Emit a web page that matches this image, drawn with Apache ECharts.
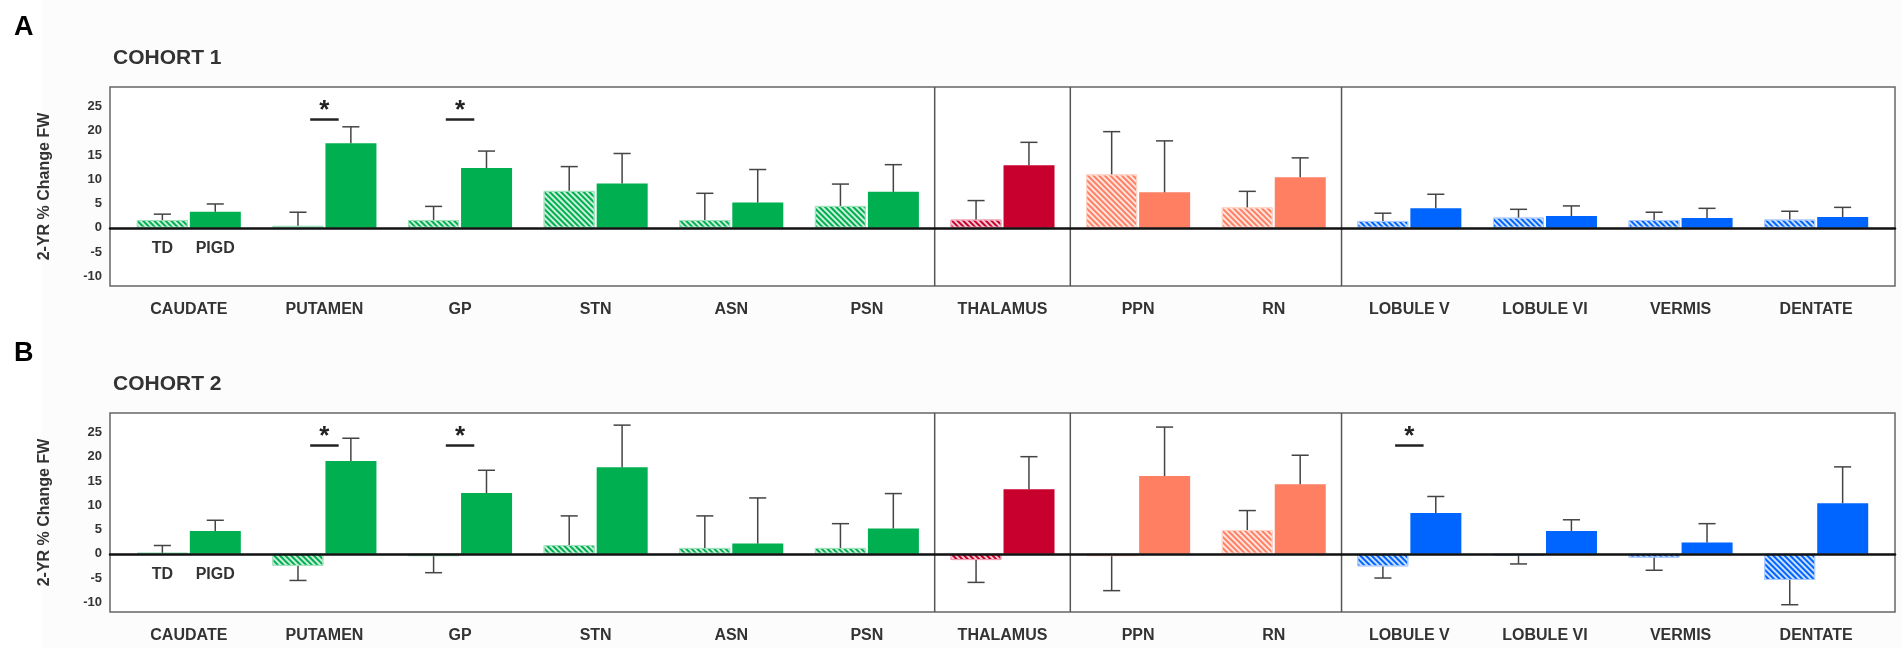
<!DOCTYPE html>
<html>
<head>
<meta charset="utf-8">
<script src="https://cdn.jsdelivr.net/npm/echarts@6/dist/echarts.min.js"></script>
<style>
html,body{margin:0;padding:0;background:#fff;}
#chart{width:1902px;height:648px;}
</style>
</head>
<body>
<div id="chart"></div>
<script>
// ---------- data ----------
const categories = ['CAUDATE','PUTAMEN','GP','STN','ASN','PSN','THALAMUS','PPN','RN','LOBULE V','LOBULE VI','VERMIS','DENTATE'];
const groupStarts = [6, 7, 9];            // first category of each new region group (dividers)
const yTicks = [-10, -5, 0, 5, 10, 15, 20, 25];
const groupNames = ['TD', 'PIGD'];

// Cohort 1
const c1TD      = [1.6, 0.4, 1.6, 7.6, 1.6, 4.5, 1.7, 11.0, 4.2, 1.4, 2.1, 1.6, 1.7];
const c1TDErr   = [1.2, 2.8, 2.8, 5.0, 5.5, 4.5, 3.9, 8.8, 3.3, 1.6, 1.7, 1.6, 1.7];
const c1PIGD    = [3.3, 17.4, 12.3, 9.1, 5.2, 7.4, 12.9, 7.3, 10.4, 4.0, 2.4, 2.0, 2.2];
const c1PIGDErr = [1.6, 3.4, 3.5, 6.2, 6.8, 5.6, 4.7, 10.6, 4.0, 2.9, 2.1, 2.0, 2.0];
const c1Sig     = ['PUTAMEN', 'GP'];

// Cohort 2
const c2TD      = [0.2, -2.5, -0.5, 1.8, 1.2, 1.2, -1.3, -0.5, 4.9, -2.6, -0.4, -0.8, -5.4];
const c2TDErr   = [1.5, 3.0, 3.4, 6.0, 6.6, 5.0, 4.6, 7.1, 4.0, 2.4, 1.7, 2.6, 5.1];
const c2PIGD    = [4.7, 19.1, 12.5, 17.8, 2.1, 5.2, 13.3, 16.0, 14.3, 8.4, 4.7, 2.3, 10.4];
const c2PIGDErr = [2.2, 4.7, 4.7, 8.7, 9.4, 7.2, 6.7, 10.1, 6.0, 3.4, 2.3, 3.9, 7.5];
const c2Sig     = ['PUTAMEN', 'GP', 'LOBULE V'];

// ---------- styles ----------
const GREEN = '#00b050', RED = '#c8002e', SALMON = '#ff7f62', BLUE = '#0064ff';
const regionColors = [GREEN, GREEN, GREEN, GREEN, GREEN, GREEN, RED, SALMON, SALMON, BLUE, BLUE, BLUE, BLUE];
const lightEdge = {}; lightEdge[GREEN] = '#9fe0bc'; lightEdge[RED] = '#f0a0b4'; lightEdge[SALMON] = '#ffd2c6'; lightEdge[BLUE] = '#a8c8ff';
const FONT = '"Liberation Sans", Arial, Helvetica, sans-serif';
const TXT = '#333';
const Y_MIN = -12, Y_MAX = 29, SIG_LEVEL = 22.3, GROUP_LABEL_LEVEL = -4.2;
const OFFSET_FRAC = 0.195;   // bar centre offset from category centre, as fraction of band

const hatch = {
  symbol: 'rect', symbolSize: 1, dashArrayX: [1, 0], dashArrayY: [1.5, 1.6],
  rotation: Math.PI / 4, color: 'rgba(255,255,255,0.8)'
};

const panels = [
  {letter: 'A', title: 'COHORT 1', top: 87, td: c1TD, tdErr: c1TDErr, pigd: c1PIGD, pigdErr: c1PIGDErr, sig: c1Sig},
  {letter: 'B', title: 'COHORT 2', top: 413, td: c2TD, tdErr: c2TDErr, pigd: c2PIGD, pigdErr: c2PIGDErr, sig: c2Sig}
];
const GRID_H = 199, OUT_L = 110, OUT_R = 7, IN_L = 121, IN_R = 18;

const option = {
  backgroundColor: '#fff',
  animation: false,
  textStyle: {fontFamily: FONT},
  graphic: [{type: 'rect', z: -10, left: 42, top: 0, shape: {width: 1860, height: 648},
    style: {fill: '#fcfcfc'}, silent: true}],
  title: [], grid: [], xAxis: [], yAxis: [], series: []
};

panels.forEach((p, pi) => {
  const go = 2 * pi, gi = 2 * pi + 1;
  option.title.push({text: p.letter, left: 9, top: p.top - 78,
    textStyle: {fontSize: 27, fontWeight: 'bold', color: '#000', fontFamily: FONT}});
  option.title.push({text: p.title, left: 108, top: p.top - 44,
    textStyle: {fontSize: 21, fontWeight: 'bold', color: TXT, fontFamily: FONT}});

  option.grid.push({left: OUT_L, right: OUT_R, top: p.top, height: GRID_H, show: true,
    borderColor: '#666', borderWidth: 1.5, backgroundColor: '#fff'});
  option.grid.push({left: IN_L, right: IN_R, top: p.top, height: GRID_H, show: false});

  option.xAxis.push({gridIndex: go, type: 'value', min: 0, max: 1, z: 10,
    axisLine: {show: true, onZero: true, lineStyle: {color: '#111', width: 2.5}},
    axisTick: {show: false}, axisLabel: {show: false}, splitLine: {show: false}});
  option.xAxis.push({gridIndex: gi, type: 'category', data: categories,
    axisLine: {show: false}, axisTick: {show: false}, splitLine: {show: false},
    axisLabel: {interval: 0, margin: 16, fontSize: 16, fontWeight: 'bold', color: TXT, fontFamily: FONT}});

  option.yAxis.push({gridIndex: go, type: 'value', min: Y_MIN, max: Y_MAX, interval: 1,
    axisLine: {show: false}, axisTick: {show: false}, splitLine: {show: false},
    axisLabel: {margin: 8, fontSize: 13, fontWeight: 'bold', color: TXT, fontFamily: FONT,
      formatter: v => (yTicks.indexOf(v) >= 0 ? String(v) : '')},
    name: '2-YR % Change FW', nameLocation: 'middle', nameGap: 57, nameRotate: 90,
    nameTextStyle: {fontSize: 16, fontWeight: 'bold', color: TXT, fontFamily: FONT}});
  option.yAxis.push({gridIndex: gi, type: 'value', min: Y_MIN, max: Y_MAX, show: false});

  option.series.push({type: 'bar', name: 'TD', xAxisIndex: gi, yAxisIndex: gi,
    barWidth: 51, barGap: '4%',
    itemStyle: {decal: hatch},
    data: p.td.map((v, i) => ({value: v,
      itemStyle: {color: regionColors[i], borderColor: lightEdge[regionColors[i]], borderWidth: 1}}))});
  option.series.push({type: 'bar', name: 'PIGD', xAxisIndex: gi, yAxisIndex: gi,
    barWidth: 51, barGap: '4%',
    data: p.pigd.map((v, i) => ({value: v, itemStyle: {color: regionColors[i]}}))});

  // error bars (one-sided, away from zero)
  const errData = [];
  p.td.forEach((v, i) => errData.push([i, v, p.tdErr[i], 0]));
  p.pigd.forEach((v, i) => errData.push([i, v, p.pigdErr[i], 1]));
  option.series.push({type: 'custom', xAxisIndex: gi, yAxisIndex: gi, z: 5, silent: true,
    data: errData,
    renderItem: (params, api) => {
      const i = api.value(0), v = api.value(1), e = api.value(2), s = api.value(3);
      const band = api.size([1, 0])[0];
      const x = api.coord([i, 0])[0] + (s === 0 ? -1 : 1) * band * OFFSET_FRAC;
      const end = v >= 0 ? v + e : v - e;
      const y0 = api.coord([i, v])[1], y1 = api.coord([i, end])[1];
      const cap = band * 0.063;
      const st = {stroke: '#444', lineWidth: 1.5};
      return {type: 'group', children: [
        {type: 'line', shape: {x1: x, y1: y0, x2: x, y2: y1}, style: st},
        {type: 'line', shape: {x1: x - cap, y1: y1, x2: x + cap, y2: y1}, style: st}
      ]};
    }});

  // region dividers
  option.series.push({type: 'custom', xAxisIndex: gi, yAxisIndex: gi, z: 4, silent: true,
    data: groupStarts.map(g => [g]),
    renderItem: (params, api) => {
      const band = api.size([1, 0])[0];
      const x = api.coord([api.value(0), 0])[0] - band / 2;
      const cs = params.coordSys;
      return {type: 'line', shape: {x1: x, y1: cs.y, x2: x, y2: cs.y + cs.height},
        style: {stroke: '#555', lineWidth: 1.5}};
    }});

  // significance markers
  option.series.push({type: 'custom', xAxisIndex: gi, yAxisIndex: gi, z: 5, silent: true,
    data: p.sig.map(c => [categories.indexOf(c)]),
    renderItem: (params, api) => {
      const band = api.size([1, 0])[0];
      const pt = api.coord([api.value(0), SIG_LEVEL]);
      const hw = band * 0.105;
      return {type: 'group', children: [
        {type: 'line', shape: {x1: pt[0] - hw, y1: pt[1], x2: pt[0] + hw, y2: pt[1]},
          style: {stroke: '#222', lineWidth: 2.5}},
        {type: 'text', style: {text: '*', x: pt[0], y: pt[1] + 4, align: 'center', verticalAlign: 'bottom',
          font: 'bold 26px ' + FONT, fill: '#222'}}
      ]};
    }});

  // group labels under the first category
  option.series.push({type: 'custom', xAxisIndex: gi, yAxisIndex: gi, z: 5, silent: true,
    data: groupNames.map((n, k) => [0, k]),
    renderItem: (params, api) => {
      const band = api.size([1, 0])[0];
      const k = api.value(1);
      const pt = api.coord([api.value(0), GROUP_LABEL_LEVEL]);
      return {type: 'text', style: {text: groupNames[k], x: pt[0] + (k === 0 ? -1 : 1) * band * OFFSET_FRAC,
        y: pt[1], align: 'center', verticalAlign: 'middle', font: 'bold 16px ' + FONT, fill: TXT}};
    }});
});

const chart = echarts.init(document.getElementById('chart'), null, {renderer: 'canvas'});
chart.setOption(option);
</script>
</body>
</html>
